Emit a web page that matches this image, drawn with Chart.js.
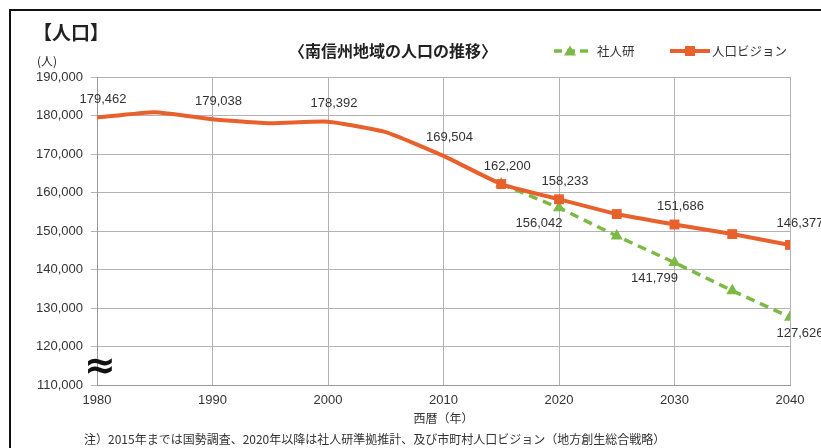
<!DOCTYPE html>
<html>
<head>
<meta charset="utf-8">
<script src="https://cdn.jsdelivr.net/npm/chart.js@4.4.1/dist/chart.umd.min.js"></script>
<style>
  html, body { margin: 0; padding: 0; background: #fff; }
  #box { position: relative; width: 821px; height: 448px; }
</style>
</head>
<body>
<div id="box"><canvas id="grafico" width="821" height="448"></canvas></div>
<script>
// 西暦
const years = [1980, 1985, 1990, 1995, 2000, 2005, 2010, 2015, 2020, 2025, 2030, 2035, 2040];
// 人口ビジョン (2015年までは国勢調査)
const vision = [179462, 180860, 179038, 178000, 178392, 175700, 169504, 162200, 158233, 154400, 151686, 149200, 146377];
// 社人研準拠推計
const shajinken = [null, null, null, null, null, null, null, 162200, 156042, 148700, 141799, 134500, 127626];
// 数値を表示する年
const visionLabelYears = [1980, 1990, 2000, 2010, 2015, 2020, 2030, 2040];
const sjLabelYears = [2020, 2030, 2040];
const yTicks = [110000, 120000, 130000, 140000, 150000, 160000, 170000, 180000, 190000];
const xTicks = [1980, 1990, 2000, 2010, 2020, 2030, 2040];

const ORANGE = '#e8612c';
const GREEN = '#7aba45';
const TXT = '#333';
const NUMFONT = "'Liberation Sans', Arial, sans-serif";
const JPFONT = "'Noto Sans CJK JP', sans-serif";

const pts = arr => years.map((y, i) => ({ x: y, y: arr[i] })).filter(p => p.y !== null);
const fmt = v => v.toLocaleString('en-US');

const decor = {
  id: 'decor',
  beforeDraw(chart) {
    const c = chart.ctx;
    c.save();
    c.fillStyle = '#111';
    c.fillRect(9, 9, 812, 2);
    c.fillRect(9, 9, 2, 439);
    c.restore();
  },
  afterDatasetsDraw(chart) {
    const c = chart.ctx;
    const xs = chart.scales.x, ys = chart.scales.y;
    c.save();
    c.font = '13px ' + NUMFONT;
    c.fillStyle = TXT;
    c.textAlign = 'center';
    c.textBaseline = 'middle';
    // 数値ラベル
    const last = years[years.length - 1];
    years.forEach((yr, i) => {
      if (visionLabelYears.includes(yr)) {
        const px = xs.getPixelForValue(yr), py = ys.getPixelForValue(vision[i]);
        const end = yr === last;
        c.fillText(fmt(vision[i]), px + (end ? 10 : 6), py - (end ? 22 : 18));
      }
      if (sjLabelYears.includes(yr) && shajinken[i] !== null) {
        const px = xs.getPixelForValue(yr), py = ys.getPixelForValue(shajinken[i]);
        const end = yr === last;
        c.fillText(fmt(shajinken[i]), px + (end ? 10 : -20), py + 16);
      }
    });
    c.restore();
  },
  afterDraw(chart) {
    const c = chart.ctx;
    const area = chart.chartArea;
    const ys = chart.scales.y;
    c.save();
    c.fillStyle = '#222';
    c.textBaseline = 'middle';
    c.textAlign = 'left';
    c.font = 'bold 19px ' + JPFONT;
    c.fillText('【人口】', 33, 33);
    c.font = '12px ' + JPFONT;
    c.fillText('(人)', 37, 61);
    c.textAlign = 'center';
    c.font = 'bold 16px ' + JPFONT;
    c.fillText('〈南信州地域の人口の推移〉', 393, 51);
    // 凡例
    c.font = '12.5px ' + JPFONT;
    c.fillStyle = TXT;
    c.textAlign = 'left';
    const ly = 51;
    c.strokeStyle = GREEN; c.lineWidth = 3.5; c.setLineDash([8, 5]);
    c.beginPath(); c.moveTo(554, ly); c.lineTo(588, ly); c.stroke();
    c.setLineDash([]);
    c.fillStyle = GREEN;
    c.beginPath(); c.moveTo(570, ly - 5.5); c.lineTo(576, ly + 4.5); c.lineTo(564, ly + 4.5); c.closePath(); c.fill();
    c.fillStyle = TXT;
    c.fillText('社人研', 597, ly);
    c.strokeStyle = ORANGE; c.lineWidth = 4;
    c.beginPath(); c.moveTo(670, ly); c.lineTo(710, ly); c.stroke();
    c.fillStyle = ORANGE;
    c.fillRect(685, ly - 5, 10, 10);
    c.fillStyle = TXT;
    c.fillText('人口ビジョン', 712, ly);
    // 軸の省略記号
    c.fillStyle = '#111';
    c.textAlign = 'center';
    c.font = 'bold 38px ' + "'DejaVu Sans', sans-serif";
    c.fillText('≈', area.left + 3, ys.getPixelForValue(114300));
    // 軸タイトルと注記
    c.font = '12px ' + JPFONT;
    c.fillStyle = TXT;
    c.fillText('西暦（年）', (area.left + area.right) / 2, 418);
    c.textAlign = 'left';
    c.fillText('注）2015年までは国勢調査、2020年以降は社人研準拠推計、及び市町村人口ビジョン（地方創生総合戦略）', 84, 439);
    c.restore();
  }
};

const graph = new Chart(document.getElementById('grafico').getContext('2d'), {
  type: 'line',
  data: {
    datasets: [{
      label: '社人研',
      data: pts(shajinken),
      borderColor: GREEN,
      backgroundColor: GREEN,
      borderWidth: 3.5,
      borderDash: [9, 6],
      pointStyle: 'triangle',
      pointRadius: 7,
      pointBorderWidth: 0,
      tension: 0,
      order: 2
    }, {
      label: '人口ビジョン',
      data: pts(vision),
      borderColor: ORANGE,
      backgroundColor: ORANGE,
      borderWidth: 4,
      pointStyle: 'rect',
      pointRadius: ctx => (ctx.raw && ctx.raw.x >= 2015 ? 7 : 0),
      pointBorderWidth: 0,
      tension: 0.15,
      order: 1
    }]
  },
  options: {
    responsive: false,
    devicePixelRatio: 1,
    animation: false,
    layout: { padding: { top: 77, right: 31, left: 0, bottom: 0 } },
    plugins: { legend: { display: false }, tooltip: { enabled: false } },
    scales: {
      x: {
        type: 'linear',
        min: 1980,
        max: 2040,
        afterBuildTicks: s => { s.ticks = xTicks.map(v => ({ value: v })); },
        afterFit: s => { s.height = 63; },
        grid: { color: '#b3b3b3', drawTicks: false },
        border: { color: '#999' },
        ticks: {
          padding: 8,
          color: TXT,
          font: { family: NUMFONT, size: 13 },
          callback: v => String(v)
        }
      },
      y: {
        min: 110000,
        max: 190000,
        afterBuildTicks: s => { s.ticks = yTicks.map(v => ({ value: v })); },
        afterFit: s => { s.width = 97; },
        grid: { color: '#b3b3b3', tickLength: 6 },
        border: { color: '#999' },
        ticks: {
          padding: 8,
          color: TXT,
          font: { family: NUMFONT, size: 13 },
          callback: v => fmt(v)
        }
      }
    }
  },
  plugins: [decor]
});
</script>
</body>
</html>
